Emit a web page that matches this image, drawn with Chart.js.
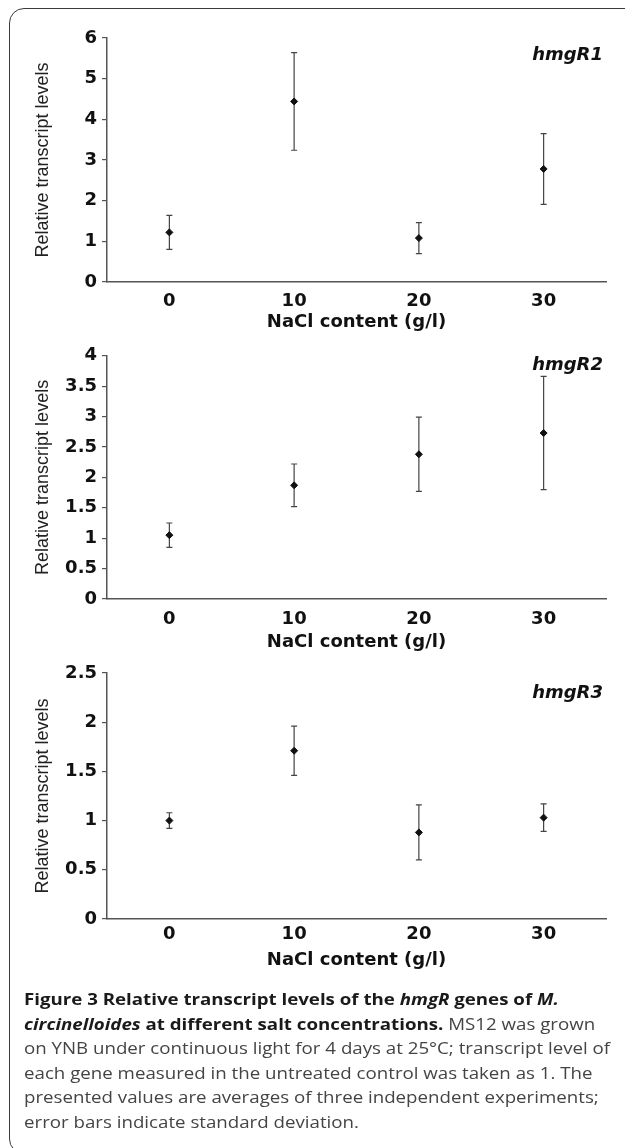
<!DOCTYPE html>
<html>
<head>
<meta charset="utf-8">
<script src="https://cdn.jsdelivr.net/npm/chart.js@4.4.1/dist/chart.umd.min.js"></script>
<style>
html, body { margin: 0; padding: 0; background: #fff; }
body { width: 625px; height: 1148px; position: relative; overflow: hidden; }
#frame {
    position: absolute; left: 9px; top: 8px; width: 650px; height: 1146px;
    border: 1.5px solid #3a3a3a; border-radius: 15px; box-sizing: border-box;
}
.panel { position: absolute; left: 0; width: 625px; }
#caption {
    position: absolute; left: 24px; top: 987px; white-space: nowrap;
    font-family: "Open Sans", sans-serif; font-size: 16px; line-height: 24.5px; color: #444;
    transform-origin: 0 0;
}
#caption b { color: #1a1a1a; }
</style>
</head>
<body>
<div id="frame"></div>
<div class="panel" style="top:0;height:340px"><canvas id="c1"></canvas></div>
<div class="panel" style="top:340px;height:315px"><canvas id="c2"></canvas></div>
<div class="panel" style="top:650px;height:330px"><canvas id="c3"></canvas></div>
<div id="caption"><b>Figure 3 Relative transcript levels of the <i>hmgR</i> genes of <i>M.</i></b><br><b><i>circinelloides</i> at different salt concentrations.</b> MS12 was grown<br>on YNB under continuous light for 4 days at 25°C; transcript level of<br>each gene measured in the untreated control was taken as 1. The<br>presented values are averages of three independent experiments;<br>error bars indicate standard deviation.</div>
<script>
// NaCl content (g/l)
const salt = ['0', '10', '20', '30'];

// hmgR1
const r1Mean = [1.22, 4.44, 1.08, 2.78];
const r1Sd = [0.42, 1.20, 0.38, 0.87];
// hmgR2
const r2Mean = [1.05, 1.87, 2.38, 2.73];
const r2Sd = [0.20, 0.35, 0.61, 0.93];
// hmgR3
const r3Mean = [1.00, 1.71, 0.88, 1.03];
const r3Sd = [0.08, 0.25, 0.28, 0.14];

const axisFont = { family: '"DejaVu Sans", sans-serif', size: 18, weight: 'bold' };

// vertical error bars with caps, drawn under the points
const errorBars = {
    id: 'errorBars',
    beforeDatasetsDraw(chart) {
        const { ctx, scales: { x, y } } = chart;
        const ds = chart.data.datasets[0];
        ctx.save();
        ctx.strokeStyle = '#444';
        ctx.lineWidth = 1.2;
        ds.data.forEach((v, i) => {
            const px = x.getPixelForValue(i);
            const hi = y.getPixelForValue(v + ds.sd[i]);
            const lo = y.getPixelForValue(v - ds.sd[i]);
            ctx.beginPath();
            ctx.moveTo(px, hi); ctx.lineTo(px, lo);
            ctx.moveTo(px - 3, hi); ctx.lineTo(px + 3, hi);
            ctx.moveTo(px - 3, lo); ctx.lineTo(px + 3, lo);
            ctx.stroke();
        });
        ctx.restore();
    }
};

// gene name in the top right corner of the plot
const geneLabel = {
    id: 'geneLabel',
    afterDraw(chart, args, opts) {
        const { ctx, chartArea } = chart;
        ctx.save();
        ctx.font = 'italic bold 18px "DejaVu Sans", sans-serif';
        ctx.fillStyle = '#111';
        ctx.textAlign = 'right';
        ctx.textBaseline = 'middle';
        ctx.fillText(opts.text, chartArea.right - 3, chartArea.top + opts.dy);
        ctx.restore();
    }
};

function makePanel(id, name, means, sds, yMax, yStep, lay) {
    return new Chart(document.getElementById(id), {
        type: 'line',
        data: {
            labels: salt,
            datasets: [{
                data: means,
                sd: sds,
                showLine: false,
                pointStyle: 'rectRot',
                pointRadius: 3.5,
                pointHoverRadius: 3.5,
                backgroundColor: '#111',
                borderColor: '#111'
            }]
        },
        options: {
            responsive: true,
            maintainAspectRatio: false,
            animation: false,
            events: [],
            layout: { padding: { top: lay.areaTop, left: 0, right: 19, bottom: 0 } },
            plugins: {
                legend: { display: false },
                tooltip: { enabled: false },
                geneLabel: { text: name, dy: lay.labelDy }
            },
            scales: {
                x: {
                    offset: true,
                    grid: { display: true, drawOnChartArea: false, drawTicks: false },
                    border: { color: '#555', width: 1.5 },
                    ticks: { color: '#111', font: axisFont, padding: lay.tickPad },
                    title: {
                        display: true, text: 'NaCl content (g/l)', color: '#111', font: axisFont,
                        padding: { top: 0, bottom: lay.titlePad }
                    },
                    afterFit: s => { s.height = lay.height - lay.areaBottom; }
                },
                y: {
                    min: 0, max: yMax,
                    grid: { drawOnChartArea: false, tickLength: 5, color: '#555', lineWidth: 1.2 },
                    border: { color: '#555', width: 1.5 },
                    ticks: { stepSize: yStep, color: '#111', font: axisFont, padding: 5, callback: v => String(v) },
                    title: {
                        display: true, text: 'Relative transcript levels', color: '#222',
                        font: { family: '"Liberation Sans", Arial, sans-serif', size: 18 },
                        padding: { top: 32, bottom: 0 }
                    },
                    afterFit: s => { s.width = 107; }
                }
            }
        },
        plugins: [errorBars, geneLabel]
    });
}

makePanel('c1', 'hmgR1', r1Mean, r1Sd, 6, 1,
    { height: 340, areaTop: 38, areaBottom: 282, tickPad: 9, titlePad: 7, labelDy: 17 });
makePanel('c2', 'hmgR2', r2Mean, r2Sd, 4, 0.5,
    { height: 315, areaTop: 15, areaBottom: 259, tickPad: 10, titlePad: 2, labelDy: 10 });
makePanel('c3', 'hmgR3', r3Mean, r3Sd, 2.5, 0.5,
    { height: 330, areaTop: 23, areaBottom: 269, tickPad: 5, titlePad: 9, labelDy: 20 });

// the caption in the figure is set wide: stretch it so its longest line ends near the frame
const cap = document.getElementById('caption');
const capW = cap.getBoundingClientRect().width;
cap.style.transform = 'scaleX(' + (586 / capW).toFixed(3) + ')';
</script>
</body>
</html>
